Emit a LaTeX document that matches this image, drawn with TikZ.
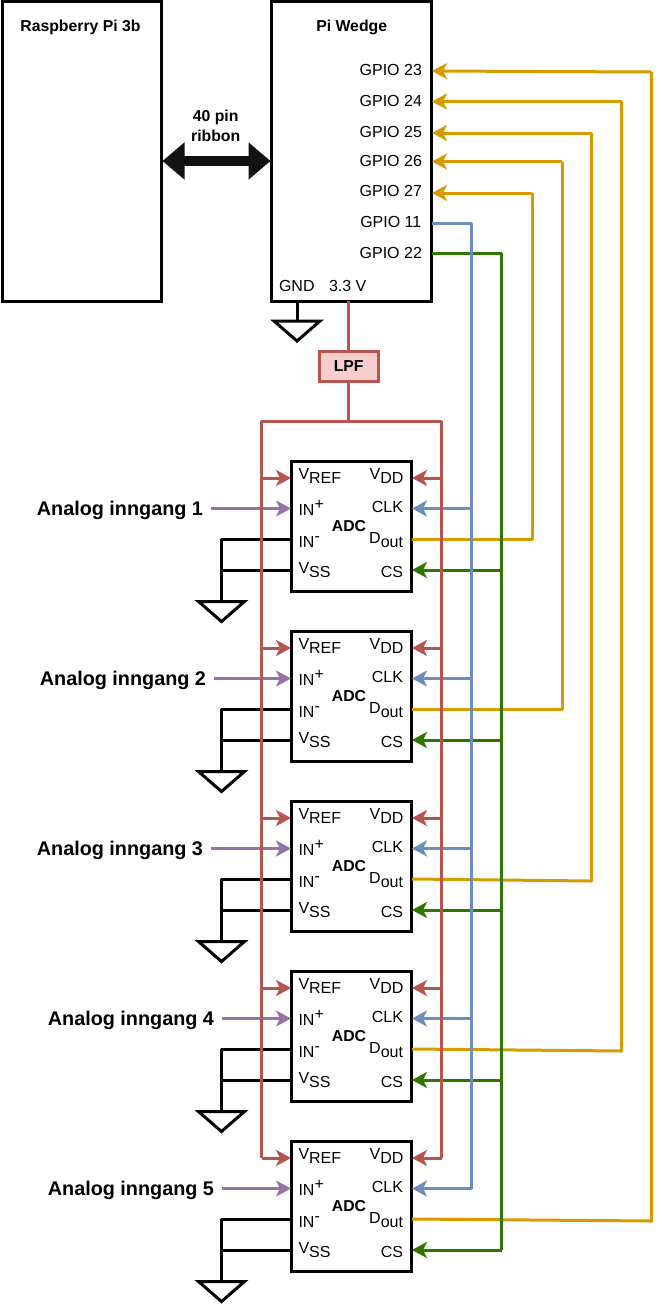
\documentclass[tikz,border=0pt]{standalone}
\usepackage{fontspec}
\setmainfont{Liberation Sans}
\usetikzlibrary{arrows.meta,calc}
\definecolor{cred}{HTML}{B85450}
\definecolor{cpink}{HTML}{F8CECC}
\definecolor{cyel}{HTML}{D79B00}
\definecolor{cblue}{HTML}{6C8EBF}
\definecolor{cgreen}{HTML}{2D7600}
\definecolor{cpurple}{HTML}{9673A6}
\newcommand{\lowtxt}[1]{\raisebox{-4.4pt}{#1}}
\newcommand{\hightxt}[1]{\raisebox{5.5pt}{#1}}
\tikzset{
  x=1pt,y=-1pt,
  wire/.style={line width=3pt,line join=round},
  tipped/.style={wire,-{Stealth[length=15pt,width=16pt,inset=4pt]}},
  blockbox/.style={draw=black,line width=3pt,fill=white,inner sep=0pt,outer sep=0pt,anchor=north west},
  gndshape/.style={draw=black,line width=3pt,line join=miter},
  lab/.style={inner sep=0pt,outer sep=0pt,font=\fontsize{16}{18}\selectfont},
  labw/.style={lab,anchor=base west},
  labe/.style={lab,anchor=base east},
  labc/.style={lab,anchor=base},
  blab/.style={inner sep=0pt,outer sep=0pt,anchor=base,font=\fontsize{15.8}{18}\selectfont\bfseries},
  ainput/.style={inner sep=0pt,outer sep=0pt,anchor=base east,font=\fontsize{19.8}{24}\selectfont\bfseries},
}
\begin{document}
\begin{tikzpicture}
\useasboundingbox (0,0) rectangle (662,1304);
\fill[white] (0,0) rectangle (662,1304);

% top blocks
\node[blockbox,minimum width=159.5pt,minimum height=300pt] (pi) at (2,1) {};
\node[blockbox,minimum width=160pt,minimum height=300pt] (wedge) at (271.5,1) {};
\node[draw=cred,fill=cpink,line width=3pt,inner sep=0pt,outer sep=0pt,minimum width=58.5pt,minimum height=30.5pt,anchor=north west] (lpf) at (319.5,351) {};

% ADC blocks
\foreach \i/\t in {1/461,2/631,3/801,4/971,5/1141}{
  \node[blockbox,minimum width=120.5pt,minimum height=130pt] (adc\i) at (291,\t) {};
  \coordinate (gt\i) at (221.5,\t+140.5);
  \coordinate (blk\i) at (221.5,\t+78);
  \coordinate (blv\i) at (221.5,\t+109);
  \coordinate (vref\i) at (291,\t+17);
  \coordinate (inp\i) at (291,\t+47.5);
  \coordinate (inm\i) at (291,\t+78);
  \coordinate (vss\i) at (291,\t+109);
  \coordinate (vdd\i) at (412,\t+17);
  \coordinate (clk\i) at (412,\t+47.5);
  \coordinate (dout\i) at (412,\t+78);
  \coordinate (cs\i) at (412,\t+109);
  \coordinate (rl\i) at (261.5,\t+17);
  \coordinate (rr\i) at (441.5,\t+17);
  \coordinate (bb\i) at (471.5,\t+47.5);
  \coordinate (gb\i) at (501.5,\t+109);
}

% named wiring points
\coordinate (tGnd) at (297,301);
\coordinate (gtw) at (297,321);
\coordinate (t33) at (348.7,301);
\coordinate (lpft) at (348.7,351);
\coordinate (lpfb) at (348.7,381);
\coordinate (rtop) at (348.7,421);
\coordinate (rtl) at (261.5,421);
\coordinate (rtr) at (441.5,421);
\coordinate (g23) at (432,71);
\coordinate (g24) at (432,101.5);
\coordinate (g25) at (432,133);
\coordinate (g26) at (432,161.5);
\coordinate (g27) at (432,193);
\coordinate (g11) at (432,223.5);
\coordinate (g22) at (432,253.5);
\coordinate (ribL) at (162.5,161);
\coordinate (ribR) at (270.5,161);
\coordinate (in1) at (211,508.5);
\coordinate (in2) at (214,678.5);
\coordinate (in3) at (211,848.5);
\coordinate (in4) at (222,1018.5);
\coordinate (in5) at (222,1188.5);

% black wires
\draw[wire] (tGnd) -- (gtw);
\draw[gndshape] (gtw) ++(-23,0) -- ++(46,0) -- ++(-23,20) -- cycle;
\foreach \i in {1,...,5}{
  \draw[wire] (inm\i) -- (blk\i) -- (gt\i);
  \draw[wire] (vss\i) -- (blv\i);
  \draw[gndshape] (gt\i) ++(-23,0) -- ++(46,0) -- ++(-23,20) -- cycle;
}

% analogue inputs
\foreach \i in {1,...,5}{
  \draw[tipped,cpurple] (in\i) -- (inp\i);
}

% data out
\draw[wire,cyel] (dout1) -- ++(120,0) coordinate (y1) -- (y1 |- g27);
\draw[tipped,cyel] (y1 |- g27) -- (g27);
\draw[wire,cyel] (dout2) -- ++(150,0) coordinate (y2) -- (y2 |- g26);
\draw[tipped,cyel] (y2 |- g26) -- (g26);
\draw[wire,cyel] (dout3) -- (591.5,881) coordinate (y3) -- (y3 |- g25);
\draw[tipped,cyel] (y3 |- g25) -- (g25);
\draw[wire,cyel] (dout4) -- (621.5,1051) coordinate (y4) -- (y4 |- g24);
\draw[tipped,cyel] (y4 |- g24) -- (g24);
\draw[wire,cyel] (dout5) -- (651.5,1221) coordinate (y5) -- (651.5,72) coordinate (y5t);
\draw[tipped,cyel] (y5t) -- (g23);

% chip select
\draw[wire,cgreen] (g22) -- (gb1 |- g22) -- (gb5);
\foreach \i in {1,...,5}{\draw[tipped,cgreen] (gb\i) -- (cs\i);}

% clock
\draw[wire,cblue] (g11) -- (bb1 |- g11) -- (bb5);
\foreach \i in {1,...,5}{\draw[tipped,cblue] (bb\i) -- (clk\i);}

% power
\draw[wire,cred] (t33) -- (lpft);
\draw[wire,cred] (lpfb) -- (rtop);
\draw[wire,cred] (rl5) -- (rtl) -- (rtr) -- (rr5);
\foreach \i in {1,...,5}{
  \draw[tipped,cred] (rl\i) -- (vref\i);
  \draw[tipped,cred] (rr\i) -- (vdd\i);
}

% ribbon
\draw[line width=10pt,color=black!93,{Triangle[length=22pt,width=36pt]}-{Triangle[length=22pt,width=36pt]}] (ribL) -- (ribR);

% texts: top
\node[blab] (piT) at (80.5,31) {Raspberry Pi 3b};
\node[blab] (weT) at (351.7,31) {Pi Wedge};
\node[blab] (rbA) at (215.7,121) {40 pin};
\node[blab] (rbB) at (215.7,141) {ribbon};
\node[blab] (lpfT) at (348.7,371.5) {LPF};
\foreach \n/\y in {23/75,24/106,25/137,26/166,27/196,11/227,22/258}{
  \node[labc] (gp\n) at (390.8,\y) {GPIO \n};
}
\node[labw] (gndT) at (279,291) {GND};
\node[labw] (v33T) at (329,291) {3.3 V};

% texts: ADC
\foreach \i/\t in {1/461,2/631,3/801,4/971,5/1141}{
  \node[labw] (tv\i) at (298.5,\t+18) {V\lowtxt{REF}};
  \node[labw] (ti\i) at (298.5,\t+54) {IN\hightxt{+}};
  \node[labw] (tm\i) at (298.5,\t+86) {IN\hightxt{-}};
  \node[labw] (ts\i) at (298.5,\t+112) {V\lowtxt{SS}};
  \node[labe] (td\i) at (403.5,\t+18) {V\lowtxt{DD}};
  \node[labe] (tc\i) at (403,\t+51) {CLK};
  \node[labe] (to\i) at (403,\t+82) {D\lowtxt{out}};
  \node[labe] (tq\i) at (403,\t+116) {CS};
  \node[blab] (ta\i) at (349,\t+70) {ADC};
}
\node[ainput] (ai1) at (203,515) {Analog inngang 1};
\node[ainput] (ai2) at (206,685) {Analog inngang 2};
\node[ainput] (ai3) at (203,855) {Analog inngang 3};
\node[ainput] (ai4) at (214,1025) {Analog inngang 4};
\node[ainput] (ai5) at (214,1195) {Analog inngang 5};
\end{tikzpicture}
\end{document}
